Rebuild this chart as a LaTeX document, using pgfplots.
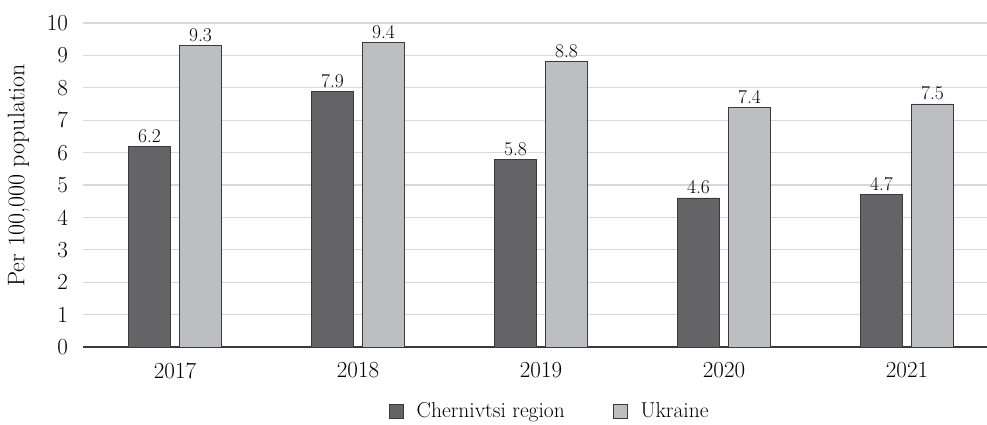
\documentclass[border=0pt]{standalone}
\usepackage{fontspec}
\usepackage{pgfplots}
\pgfplotsset{compat=1.18}
\definecolor{darkbar}{HTML}{646466}
\definecolor{lightbar}{HTML}{BDBEC1}
\definecolor{edgecol}{HTML}{3A3A3A}
\definecolor{gridcol}{HTML}{D9D9D9}
\begin{document}
\begin{tikzpicture}
\begin{axis}[
  name=ax,
  scale only axis,
  width=903.5bp, height=324bp,
  ybar=9bp, bar width=42bp,
  xmin=-0.5, xmax=4.437,
  ymin=0, ymax=10,
  xtick=data, xticklabels={2017,2018,2019,2020,2021},
  ytick={0,1,...,10},
  axis lines*=left,
  y axis line style={draw=none},
  x axis line style={edgecol, line width=1.2bp},
  tick style={draw=none},
  ymajorgrids,
  grid style={gridcol, line width=1.2bp},
  tick label style={font=\fontsize{23bp}{26bp}\selectfont},
  xticklabel style={yshift=-8bp},
  yticklabel style={xshift=-12bp},
  /pgf/number format/assume math mode=true,
  ylabel={Per 100,000 population},
  ylabel style={font=\fontsize{24bp}{27bp}\selectfont, at={(axis description cs:-0.072,0.53)}, anchor=center},
  nodes near coords={\pgfmathprintnumber{\pgfplotspointmeta}},
  every node near coord/.append style={font=\fontsize{19.5bp}{22bp}\selectfont, text=black},
  legend style={at={(0.516,-0.198)}, anchor=center, draw=none,
    font=\fontsize{21.5bp}{24bp}\selectfont,
    /tikz/every odd column/.append style={column sep=11bp},
    /tikz/every even column/.append style={column sep=46bp}},
  legend columns=2,
  every axis plot/.append style={legend image code/.code={\draw[#1,line width=0.8bp] (0bp,-7bp) rectangle (14bp,7bp);}},
]
\addplot[fill=darkbar, draw=edgecol, line width=0.8bp] coordinates {(0,6.2) (1,7.9) (2,5.8) (3,4.6) (4,4.7)};
\addplot[fill=lightbar, draw=edgecol, line width=0.8bp] coordinates {(0,9.3) (1,9.4) (2,8.8) (3,7.4) (4,7.5)};
\legend{Chernivtsi region, Ukraine}
\end{axis}
\pgfresetboundingbox
\path ([xshift=-83.5bp,yshift=-78bp]ax.south west) rectangle ([yshift=23bp]ax.north east);
\end{tikzpicture}
\end{document}
